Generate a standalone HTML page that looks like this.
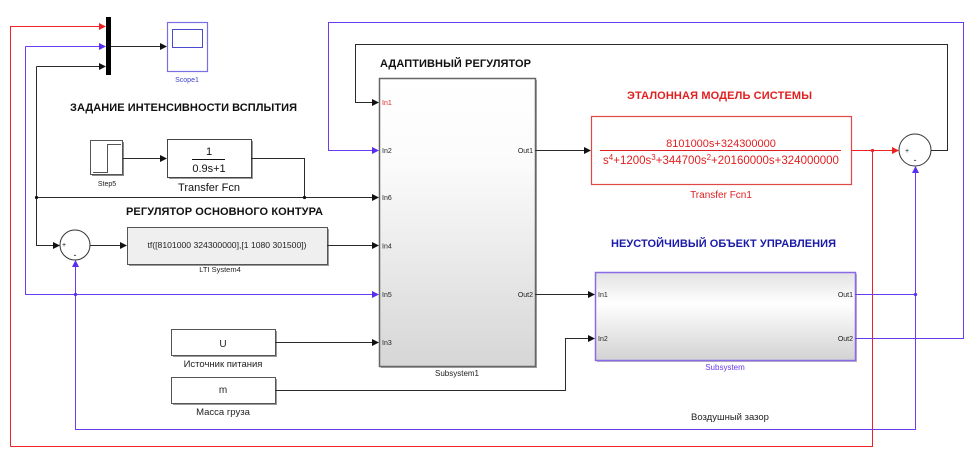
<!DOCTYPE html>
<html><head><meta charset="utf-8"><style>
html,body{margin:0;padding:0;background:#fff;width:980px;height:465px;overflow:hidden}
svg{display:block}
</style></head><body>
<svg width="980" height="465" viewBox="0 0 980 465" xmlns="http://www.w3.org/2000/svg" font-family="Liberation Sans, Arial, sans-serif">
<defs>
<linearGradient id="g1" x1="0" y1="0" x2="0" y2="1"><stop offset="0" stop-color="#ffffff"/><stop offset="0.3" stop-color="#fbfbfb"/><stop offset="1" stop-color="#d6d6d6"/></linearGradient>
<linearGradient id="g2" x1="0" y1="0" x2="0" y2="1"><stop offset="0" stop-color="#e2e2e2"/><stop offset="0.35" stop-color="#ffffff"/><stop offset="1" stop-color="#d2d2d2"/></linearGradient>
</defs>

<!-- Blocks -->
<rect x="106" y="17" width="5" height="58" fill="#000"/>
<rect x="167.5" y="22.5" width="40" height="49" fill="#fff" stroke="#7a6fe0" stroke-width="1.2"/>
<rect x="172.5" y="29.5" width="30" height="18" fill="#fff" stroke="#4b4bd0"/>

<rect x="92" y="142" width="32" height="34" fill="#888"/>
<rect x="90.5" y="140.5" width="32" height="34" fill="#fff" stroke="#555"/>
<polyline points="93,172.5 107.5,172.5 107.5,144.5 121,144.5" fill="none" stroke="#555"/>

<rect x="169" y="141" width="84" height="38" fill="#999"/>
<rect x="167.5" y="139.5" width="84" height="38" fill="#fff" stroke="#444"/>

<rect x="129" y="229" width="200" height="37" fill="#999"/>
<rect x="127.5" y="227.5" width="200" height="37" fill="#efefef" stroke="#555"/>

<rect x="173" y="331" width="104" height="26" fill="#999"/>
<rect x="171.5" y="329.5" width="104" height="26" fill="#fff" stroke="#555"/>
<rect x="173" y="379" width="104" height="26" fill="#999"/>
<rect x="171.5" y="377.5" width="104" height="26" fill="#fff" stroke="#555"/>

<rect x="381" y="80" width="156" height="288" fill="#aaa"/>
<rect x="379.5" y="78.5" width="156" height="288" fill="url(#g1)" stroke="#666" stroke-width="1.5"/>

<rect x="591.5" y="116.5" width="260" height="68" fill="#fff" stroke="#e04848" stroke-width="1.2"/>

<rect x="597" y="274" width="260" height="88" fill="#bbb"/>
<rect x="595.5" y="272.5" width="260" height="88" fill="url(#g2)" stroke="#8a6ae8" stroke-width="1.5"/>

<circle cx="75" cy="245" r="15" fill="#fff" stroke="#333"/>
<circle cx="915" cy="150" r="16" fill="#fff" stroke="#333"/>

<!-- Black lines -->
<g fill="none" stroke="#2a2a2a" stroke-width="1">
<path d="M36.5 66.5 H100"/>
<path d="M36.5 66.5 V245.5 H54"/>
<path d="M36.5 197.5 H373"/>
<path d="M123 158.5 H161"/>
<path d="M251 158.5 H304.5 V197.5"/>
<path d="M90 245.5 H121"/>
<path d="M327 245.5 H373"/>
<path d="M111 46.5 H161"/>
<path d="M275 342.5 H373"/>
<path d="M275 390.5 H565.5 V338.5 H589"/>
<path d="M535 150.5 H585"/>
<path d="M535 294.5 H589"/>
<path d="M931 150.5 H947.5 V44.5 H355.5 V102.5 H373"/>
</g>
<g fill="#111">
<polygon points="99,63 106,66.5 99,70"/>
<polygon points="53,242 60,245.5 53,249"/>
<polygon points="372,194 379,197.5 372,201"/>
<polygon points="160,155 167,158.5 160,162"/>
<polygon points="120,242 127,245.5 120,249"/>
<polygon points="372,242 379,245.5 372,249"/>
<polygon points="160,43 167,46.5 160,50"/>
<polygon points="372,339 379,342.5 372,346"/>
<polygon points="588,335 595,338.5 588,342"/>
<polygon points="584,147 591,150.5 584,154"/>
<polygon points="588,291 595,294.5 588,298"/>
<polygon points="372,99 379,102.5 372,106"/>
<circle cx="36.5" cy="197.5" r="1.6"/>
<circle cx="304.5" cy="197.5" r="1.6"/>
</g>

<!-- Red lines -->
<g fill="none" stroke="#ee2222" stroke-width="1">
<path d="M10.5 446.5 V26.5 H100"/>
<path d="M10.5 446.5 H872.5 V150.5"/>
<path d="M851 150.5 H893"/>
</g>
<g fill="#ee2222">
<polygon points="99,23 106,26.5 99,30"/>
<polygon points="892,147 899,150.5 892,154"/>
<circle cx="872.5" cy="150.5" r="1.6"/>
</g>

<!-- Purple lines -->
<g fill="none" stroke="#6a3cf0" stroke-width="1">
<path d="M25.5 46.5 H100"/>
<path d="M25.5 46.5 V294.5 H373"/>
<path d="M75.5 294.5 V267"/>
<path d="M75.5 294.5 V429.5 H915.5 V172"/>
<path d="M855 294.5 H915.5"/>
<path d="M855 338.5 H963.5 V22.5 H328.5 V150.5 H373"/>
</g>
<g fill="#5a2ef0">
<polygon points="99,43 106,46.5 99,50"/>
<polygon points="372,291 379,294.5 372,298"/>
<polygon points="372,147 379,150.5 372,154"/>
<polygon points="72,267 75.5,260 79,267"/>
<polygon points="912,173 915.5,166 919,173"/>
<circle cx="75.5" cy="294.5" r="1.6"/>
<circle cx="915.5" cy="294.5" r="1.6"/>
</g>

<!-- Titles -->
<g font-weight="bold" font-size="11">
<text x="70" y="111" textLength="227" lengthAdjust="spacing" fill="#111">ЗАДАНИЕ ИНТЕНСИВНОСТИ ВСПЛЫТИЯ</text>
<text x="126" y="215" textLength="197" lengthAdjust="spacing" fill="#111">РЕГУЛЯТОР ОСНОВНОГО КОНТУРА</text>
<text x="380" y="67" textLength="151" lengthAdjust="spacing" fill="#111">АДАПТИВНЫЙ РЕГУЛЯТОР</text>
<text x="627" y="99" textLength="185" lengthAdjust="spacing" fill="#e02020">ЭТАЛОННАЯ МОДЕЛЬ СИСТЕМЫ</text>
<text x="611" y="247" textLength="225" lengthAdjust="spacing" fill="#1a1aa8">НЕУСТОЙЧИВЫЙ ОБЪЕКТ УПРАВЛЕНИЯ</text>
</g>

<!-- Block texts -->
<text x="187" y="82" font-size="7" fill="#4040d0" text-anchor="middle">Scope1</text>
<text x="107" y="186" font-size="7" fill="#222" text-anchor="middle">Step5</text>
<text x="209" y="155" font-size="11" fill="#111" text-anchor="middle">1</text>
<line x1="192" y1="159.5" x2="225" y2="159.5" stroke="#111"/>
<text x="209" y="172" font-size="11" fill="#111" text-anchor="middle">0.9s+1</text>
<text x="209" y="191" font-size="11" fill="#111" text-anchor="middle">Transfer Fcn</text>

<text x="75" y="247" font-size="7" fill="#111" text-anchor="middle" dx="-11">+</text>
<text x="75" y="258" font-size="9" fill="#111" text-anchor="middle">-</text>
<text x="227" y="248" font-size="8" fill="#222" text-anchor="middle" textLength="159" lengthAdjust="spacingAndGlyphs">tf([8101000 324300000],[1 1080 301500])</text>
<text x="220" y="272" font-size="7.5" fill="#222" text-anchor="middle">LTI System4</text>

<text x="223" y="347" font-size="10" fill="#222" text-anchor="middle">U</text>
<text x="223" y="367" font-size="9.5" fill="#222" text-anchor="middle">Источник питания</text>
<text x="223" y="393" font-size="10" fill="#222" text-anchor="middle">m</text>
<text x="223" y="415" font-size="9.5" fill="#222" text-anchor="middle">Масса груза</text>

<g font-size="7" fill="#222">
<text x="382" y="105" fill="#e02020">In1</text>
<text x="382" y="153">In2</text>
<text x="382" y="200">In6</text>
<text x="382" y="248.5">In4</text>
<text x="382" y="297">In5</text>
<text x="382" y="345">In3</text>
<text x="533" y="153" text-anchor="end">Out1</text>
<text x="533" y="297" text-anchor="end">Out2</text>
<text x="598" y="297">In1</text>
<text x="598" y="341">In2</text>
<text x="853" y="297" text-anchor="end">Out1</text>
<text x="853" y="341" text-anchor="end">Out2</text>
</g>
<text x="457" y="376" font-size="8" fill="#222" text-anchor="middle">Subsystem1</text>
<text x="725" y="370" font-size="8" fill="#6a3cf0" text-anchor="middle">Subsystem</text>

<text x="721" y="147" font-size="11" fill="#e02020" text-anchor="middle">8101000s+324300000</text>
<line x1="600" y1="150.5" x2="841" y2="150.5" stroke="#e02020"/>
<text x="721" y="164" font-size="11.5" fill="#e02020" text-anchor="middle">s<tspan font-size="8" dy="-4">4</tspan><tspan dy="4">+1200s</tspan><tspan font-size="8" dy="-4">3</tspan><tspan dy="4">+344700s</tspan><tspan font-size="8" dy="-4">2</tspan><tspan dy="4">+20160000s+324000000</tspan></text>
<text x="721" y="198" font-size="10" fill="#e02020" text-anchor="middle">Transfer Fcn1</text>

<text x="905" y="153" font-size="7" fill="#111">+</text>
<text x="915" y="163" font-size="9" fill="#111" text-anchor="middle">-</text>

<text x="730" y="420" font-size="9.5" fill="#222" text-anchor="middle">Воздушный  зазор</text>
</svg>
</body></html>
